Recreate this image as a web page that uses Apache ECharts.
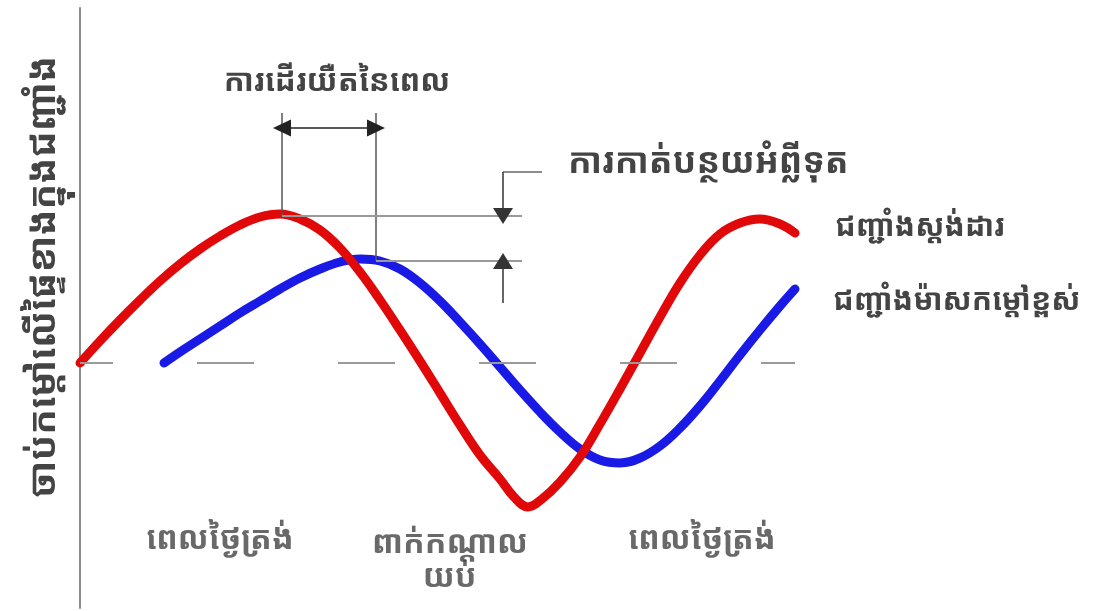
<!DOCTYPE html>
<html>
<head>
<meta charset="utf-8">
<title>ជញ្ជាំង ម៉ាសកម្ដៅ</title>
<script src="https://cdn.jsdelivr.net/npm/echarts@6/dist/echarts.min.js"></script>
<style>
  html, body { margin: 0; padding: 0; background: #fff; }
  #chart { width: 1104px; height: 611px; }
</style>
</head>
<body>
<div id="chart"></div>
<script>
// time of day (hours) and heat level
var redHours = [5, 6, 7, 8, 9, 10, 11, 12, 13, 14, 15, 16, 17, 18, 19, 20, 21, 22, 23, 24, 25, 26, 26.7, 27.4, 28.1, 29, 30, 31, 32, 33, 34, 35, 36, 37, 38, 39, 40, 40.75];
var redLevel = [0, 0.22, 0.43, 0.63, 0.82, 0.99, 1.14, 1.27, 1.38, 1.46, 1.49, 1.44, 1.33, 1.15, 0.91, 0.63, 0.33, 0.02, -0.30, -0.62, -0.92, -1.16, -1.34, -1.44, -1.36, -1.19, -0.94, -0.61, -0.26, 0.10, 0.46, 0.80, 1.08, 1.29, 1.40, 1.44, 1.39, 1.30];

var blueHours = [9.2, 10, 11, 12, 13, 14, 15, 16, 17, 18, 19, 20, 21, 22, 23, 24, 25, 26, 27, 28, 29, 30, 31, 32, 33, 34, 35, 36, 37, 38, 39, 40, 40.75];
var blueLevel = [0, 0.11, 0.24, 0.37, 0.50, 0.62, 0.74, 0.85, 0.94, 1.01, 1.04, 1.02, 0.94, 0.80, 0.62, 0.41, 0.19, -0.04, -0.27, -0.49, -0.69, -0.86, -0.97, -1.00, -0.95, -0.83, -0.65, -0.43, -0.18, 0.08, 0.33, 0.57, 0.74];

var seriesNames = ['ជញ្ជាំងស្ដង់ដារ', 'ជញ្ជាំងម៉ាសកម្ដៅខ្ពស់'];

var dayLabels = ['ពេលថ្ងៃត្រង់', 'ពាក់កណ្ដាល\nយប់', 'ពេលថ្ងៃត្រង់'];
var dayLabelHours = [12, 23.5, 36.1];
var dayLabelLevel = [-1.77, -1.98, -1.77];

// annotation anchors (hours / level)
var lagStart = 15.1, lagEnd = 19.8, lagArrowLevel = 2.35, lagTop = 2.5;
var redPeak = 1.47, bluePeak = 1.02;
var decX = 26.15, decRight = 28.1, decBracket = 1.91, decBottom = 0.60, guideEnd = 27.1;

var khmer = '"Noto Sans Khmer", "Khmer OS", "Noto Sans", sans-serif';
var textGrey = '#444';

function zip(xs, ys) {
    return xs.map(function (x, i) { return [x, ys[i]]; });
}

var chart = echarts.init(document.getElementById('chart'));

var thin = function (color, width) {
    return { color: color, width: width, type: 'solid' };
};

chart.setOption({
    animation: false,
    grid: { left: 80, top: 8, width: 715, height: 600 },
    xAxis: {
        type: 'value',
        min: 5,
        max: 40.75,
        show: false
    },
    yAxis: {
        type: 'value',
        min: -2.45,
        max: 3.55,
        axisLine: { show: true, onZero: false, lineStyle: { color: '#8c8c8c', width: 2 } },
        axisTick: { show: false },
        axisLabel: { show: false },
        splitLine: { show: false }
    },
    graphic: [
        {
            type: 'text',
            x: 44, y: 277,
            rotation: Math.PI / 2,
            style: {
                text: 'ចាប់កម្ដៅលើផ្ទៃខាងក្នុងជញ្ជាំង',
                font: 'bold 38px ' + khmer,
                fill: textGrey,
                align: 'center',
                verticalAlign: 'middle'
            }
        },
        {
            type: 'text',
            x: 337, y: 82,
            style: {
                text: 'ការដើរយឺតនៃពេល',
                font: 'bold 31px ' + khmer,
                fill: textGrey,
                align: 'center',
                verticalAlign: 'middle'
            }
        },
        {
            type: 'text',
            x: 568, y: 163,
            style: {
                text: 'ការកាត់បន្ថយអំព្លីទុត',
                font: 'bold 35px ' + khmer,
                fill: textGrey,
                align: 'left',
                verticalAlign: 'middle'
            }
        }
    ],
    series: [
        {
            name: seriesNames[1],
            type: 'line',
            data: zip(blueHours, blueLevel),
            smooth: 0.4,
            showSymbol: false,
            lineStyle: { color: '#1a1ae6', width: 9, cap: 'round' },
            itemStyle: { color: '#1a1ae6' },
            endLabel: {
                show: true,
                formatter: '{a}',
                offset: [30, 12],
                color: textGrey,
                fontFamily: khmer,
                fontWeight: 'bold',
                fontSize: 30
            }
        },
        {
            name: seriesNames[0],
            type: 'line',
            data: zip(redHours, redLevel),
            smooth: 0.4,
            showSymbol: false,
            lineStyle: { color: '#e00808', width: 9, cap: 'round' },
            itemStyle: { color: '#e00808' },
            endLabel: {
                show: true,
                formatter: '{a}',
                offset: [32, -6],
                color: textGrey,
                fontFamily: khmer,
                fontWeight: 'bold',
                fontSize: 30
            },
            markLine: {
                silent: true,
                animation: false,
                symbol: 'none',
                label: { show: false },
                data: [
                    // dashed mean line
                    [
                        { coord: [5, 0], lineStyle: { color: '#9a9a9a', width: 2, type: [57, 84], dashOffset: 24 } },
                        { coord: [40.75, 0] }
                    ],
                    // time lag guides
                    [{ coord: [lagStart, lagTop], lineStyle: thin('#555', 1.5) }, { coord: [lagStart, redPeak] }],
                    [{ coord: [lagEnd, lagTop], lineStyle: thin('#555', 1.5) }, { coord: [lagEnd, bluePeak] }],
                    [
                        { coord: [lagStart, lagArrowLevel], symbol: 'triangle', symbolSize: [17, 18], lineStyle: thin('#222', 1.5) },
                        { coord: [lagEnd, lagArrowLevel], symbol: 'triangle', symbolSize: [17, 18] }
                    ],
                    // peak guides
                    [{ coord: [lagStart, redPeak], lineStyle: thin('#999', 2) }, { coord: [guideEnd, redPeak] }],
                    [{ coord: [lagEnd, bluePeak], lineStyle: thin('#999', 2) }, { coord: [guideEnd, bluePeak] }],
                    // decrement arrows
                    [{ coord: [decRight, decBracket], lineStyle: thin('#666', 1.5) }, { coord: [decX, decBracket] }],
                    [
                        { coord: [decX, decBracket], lineStyle: thin('#333', 1.5) },
                        { coord: [decX, redPeak], symbol: 'triangle', symbolSize: [20, 16] }
                    ],
                    [
                        { coord: [decX, decBottom], lineStyle: thin('#333', 1.5) },
                        { coord: [decX, bluePeak], symbol: 'triangle', symbolSize: [20, 16] }
                    ]
                ]
            }
        },
        {
            type: 'scatter',
            symbolSize: 0,
            silent: true,
            data: dayLabels.map(function (t, i) {
                return { name: t, value: [dayLabelHours[i], dayLabelLevel[i]] };
            }),
            label: {
                show: true,
                position: 'inside',
                formatter: '{b}',
                color: textGrey,
                fontFamily: khmer,
                fontWeight: 'bold',
                fontSize: 32,
                lineHeight: 34
            }
        }
    ]
});
</script>
</body>
</html>
